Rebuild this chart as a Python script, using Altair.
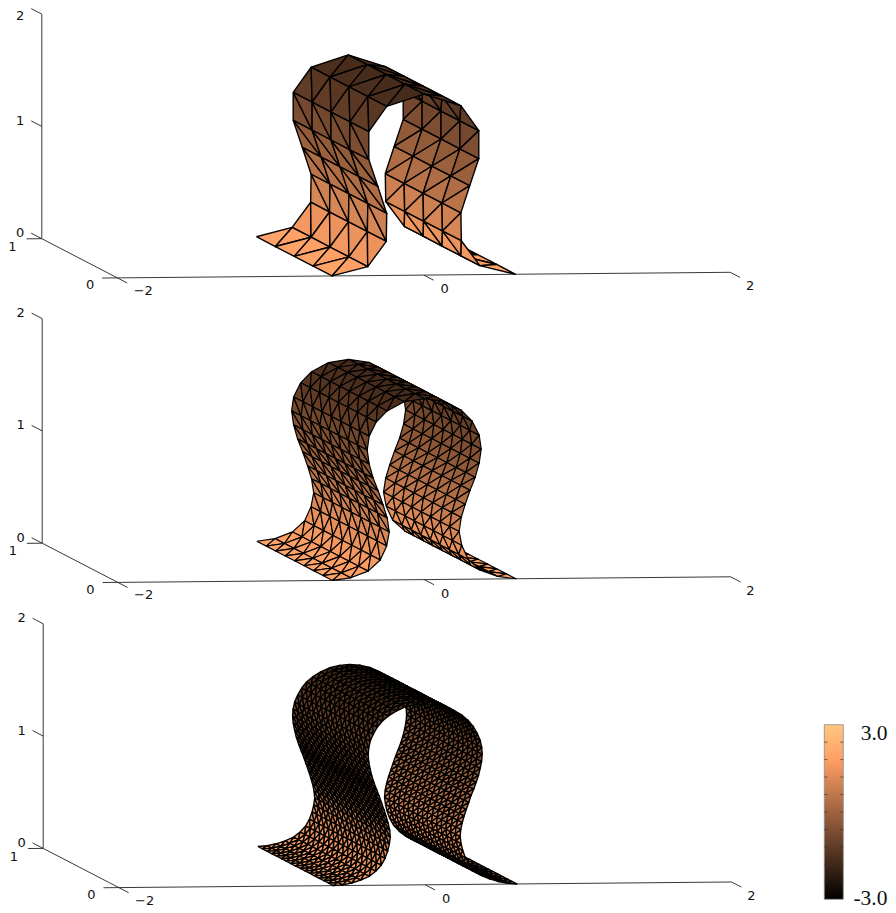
import altair as alt
import pandas as pd

alt.data_transformers.disable_max_rows()

# half of the sheet's profile, foot to crown (the other half mirrors it), model units
profile_x = [-0.599, -0.539, -0.480, -0.421, -0.366, -0.323, -0.287, -0.262, -0.245,
             -0.234, -0.228, -0.232, -0.242, -0.254, -0.268, -0.284, -0.300, -0.317,
             -0.333, -0.348, -0.359, -0.368, -0.372, -0.369, -0.359, -0.339, -0.313,
             -0.281, -0.242, -0.189, -0.131, -0.065, 0.0]
profile_z = [0.0, 0.006, 0.022, 0.047, 0.080, 0.125, 0.178, 0.239, 0.303,
             0.365, 0.427, 0.490, 0.552, 0.610, 0.668, 0.730, 0.793, 0.850,
             0.908, 0.971, 1.033, 1.095, 1.158, 1.220, 1.282, 1.345, 1.407,
             1.460, 1.505, 1.549, 1.585, 1.606, 1.612]
profile_v = [2.0, 1.95, 1.9, 1.85, 1.75, 1.6, 1.5, 1.35, 1.25,
             1.1, 0.95, 0.8, 0.65, 0.5, 0.4, 0.25, 0.1, -0.05,
             -0.2, -0.3, -0.45, -0.6, -0.7, -0.85, -1.0, -1.15, -1.3,
             -1.4, -1.5, -1.6, -1.7, -1.72, -1.75]

panel_steps = [4, 2, 1]            # every n-th profile sample
panel_cells = [4, 8, 16]           # cells across the sheet
panel_stroke = [1.4, 1.2, 1.4]
panel_shift_x = [0.0, 0.4, 1.4]
panel_shift_y = [0.0, 304.5, 609.7]

x_ticks = [-2, 0, 2]
x_tick_labels = ["\u22122", "0", "2"]
y_ticks = [0, 1]
y_tick_labels = ["0", "1"]
z_ticks = [0, 1, 2]
z_tick_labels = ["0", "1", "2"]
bar_tick_values = [-2.4, -1.8, -1.2, -0.6, 0.0, 0.6, 1.2, 1.8, 2.4]
bar_labels = ["3.0", "-3.0"]
copper_values = [-3.0, 1.8, 3.0]
copper_colors = ["#000000", "#ff9f65", "#ffc77f"]

PAGE_RIGHT = 888
PAGE_BOTTOM = 913


def project(x, y, z, sh):
    return (423.8 + sh[0] + 153.2 * x - 75.6 * y,
            275.1 + sh[1] - 1.4 * x - 39.2 * y - 112.3 * z)


def sheet(step, cells, sh, panel):
    xs = profile_x[::step] + [-a for a in profile_x[::step][-2::-1]]
    zs = profile_z[::step] + profile_z[::step][-2::-1]
    vs = profile_v[::step] + profile_v[::step][-2::-1]
    tris = []
    for i in range(len(xs) - 1):
        for j in range(cells):
            a = (i, j)
            b = (i + 1, j)
            c = (i, j + 1)
            d = (i + 1, j + 1)
            tris += [(a, b, c), (b, d, c)]

    def corner(p):
        return xs[p[0]], 1 - p[1] / cells, zs[p[0]], vs[p[0]]

    def depth(t):
        return sum(0.493 * corner(p)[0] + corner(p)[1] - 0.355 * corner(p)[2] for p in t)

    tris.sort(key=depth, reverse=True)
    rows = []
    for n, t in enumerate(tris):
        val = sum(corner(p)[3] for p in t) / 3
        for k, p in enumerate(list(t) + [t[0]]):
            cx, cy, cz, _ = corner(p)
            sx, sy = project(cx, cy, cz, sh)
            rows.append({"tri": f"{panel}-{n:05d}", "k": k, "sx": sx, "sy": sy, "val": val})
    return pd.DataFrame(rows)


X = alt.X("sx:Q", axis=None, scale=alt.Scale(domain=[8, PAGE_RIGHT], nice=False, zero=False))
Y = alt.Y("sy:Q", axis=None, scale=alt.Scale(domain=[PAGE_BOTTOM, 8], nice=False, zero=False))
color_scale = alt.Scale(domain=copper_values, range=copper_colors, clamp=True, interpolate="rgb")

layers = []
segments = []
labels = []
for p in range(3):
    sh = (panel_shift_x[p], panel_shift_y[p])

    def seg(a, b):
        ax, ay = project(*a, sh)
        bx, by = project(*b, sh)
        segments.append({"sx": ax, "sy": ay, "ex": bx, "ey": by})

    seg((-2, 0, 0), (2, 0, 0))
    seg((-2, 0, 0), (-2, 1, 0))
    seg((-2, 1, 0), (-2, 1, 2))
    for v, t, off in zip(x_ticks, x_tick_labels, [(16, 8), (11, 9), (10, 9)]):
        seg((v, 0, 0), (v, -0.13, 0))
        ex, ey = project(v, -0.13, 0, sh)
        labels.append({"sx": ex + off[0], "sy": ey + off[1], "t": t})
    for v, t, off in zip(y_ticks, y_tick_labels, [(-12, 7), (-14, 8)]):
        seg((-2, v, 0), (-2.1, v, 0))
        ex, ey = project(-2.1, v, 0, sh)
        labels.append({"sx": ex + off[0], "sy": ey + off[1], "t": t})
    for v, t in zip(z_ticks, z_tick_labels):
        seg((-2, 1, v), (-2, 1.14, v))
        ex, ey = project(-2, 1.14, v, sh)
        labels.append({"sx": ex - 11, "sy": max(ey, 16), "t": t})

axes = alt.Chart(pd.DataFrame(segments)).mark_rule(color="#222222", strokeWidth=0.9).encode(
    x=X, y=Y, x2="ex:Q", y2="ey:Q"
)
texts = alt.Chart(pd.DataFrame(labels)).mark_text(
    font="DejaVu Sans", fontSize=13, color="#111111", align="center", baseline="middle"
).encode(x=X, y=Y, text="t:N")
layers += [axes, texts]

for p in range(3):
    df = sheet(panel_steps[p], panel_cells[p], (panel_shift_x[p], panel_shift_y[p]), p)
    layers.append(
        alt.Chart(df).mark_line(
            stroke="#000000", strokeWidth=panel_stroke[p], strokeJoin="round", clip=False
        ).encode(
            x=X, y=Y,
            order=alt.Order("k:Q"),
            detail="tri:N",
            fill=alt.Fill("val:Q", scale=color_scale, legend=None),
        )
    )

# colour bar
BX0, BX1, BY0, BY1 = 824.3, 843.3, 899.3, 724.7


def bar_y(v):
    return BY0 + (v + 3) / 6 * (BY1 - BY0)


bar = alt.Chart(pd.DataFrame([{"sx": BX0, "ex": BX1, "sy": BY0, "ey": BY1}])).mark_rect(
    fill=alt.Gradient(
        gradient="linear",
        x1=0, x2=0, y1=1, y2=0,
        stops=[alt.GradientStop(color=c, offset=(v + 3) / 6)
               for v, c in zip(copper_values, copper_colors)],
    ),
    stroke="#8a8a8a", strokeWidth=0.8,
).encode(x=X, y=Y, x2="ex:Q", y2="ey:Q")

bar_ticks = []
for v in bar_tick_values:
    bar_ticks.append({"sx": BX0, "ex": BX0 + 3, "sy": bar_y(v), "ey": bar_y(v)})
    bar_ticks.append({"sx": BX1 - 3, "ex": BX1, "sy": bar_y(v), "ey": bar_y(v)})
bar_rules = alt.Chart(pd.DataFrame(bar_ticks)).mark_rule(color="#333333", strokeWidth=0.7).encode(
    x=X, y=Y, x2="ex:Q", y2="ey:Q"
)
bar_text = alt.Chart(pd.DataFrame([
    {"sx": 887.5, "sy": 733.5, "t": bar_labels[0]},
    {"sx": 887.5, "sy": 899.0, "t": bar_labels[1]},
])).mark_text(
    font="Liberation Serif", fontSize=21.5, color="#111111", align="right", baseline="middle"
).encode(x=X, y=Y, text="t:N")
layers += [bar, bar_rules, bar_text]

chart = alt.layer(*layers).resolve_scale(fill="shared").properties(
    width=PAGE_RIGHT - 8, height=PAGE_BOTTOM - 8, padding=0, autosize=alt.AutoSizeParams(type="none")
).configure_view(stroke=None)

chart.save("out.html", embed_options={"renderer": "svg", "actions": False})
